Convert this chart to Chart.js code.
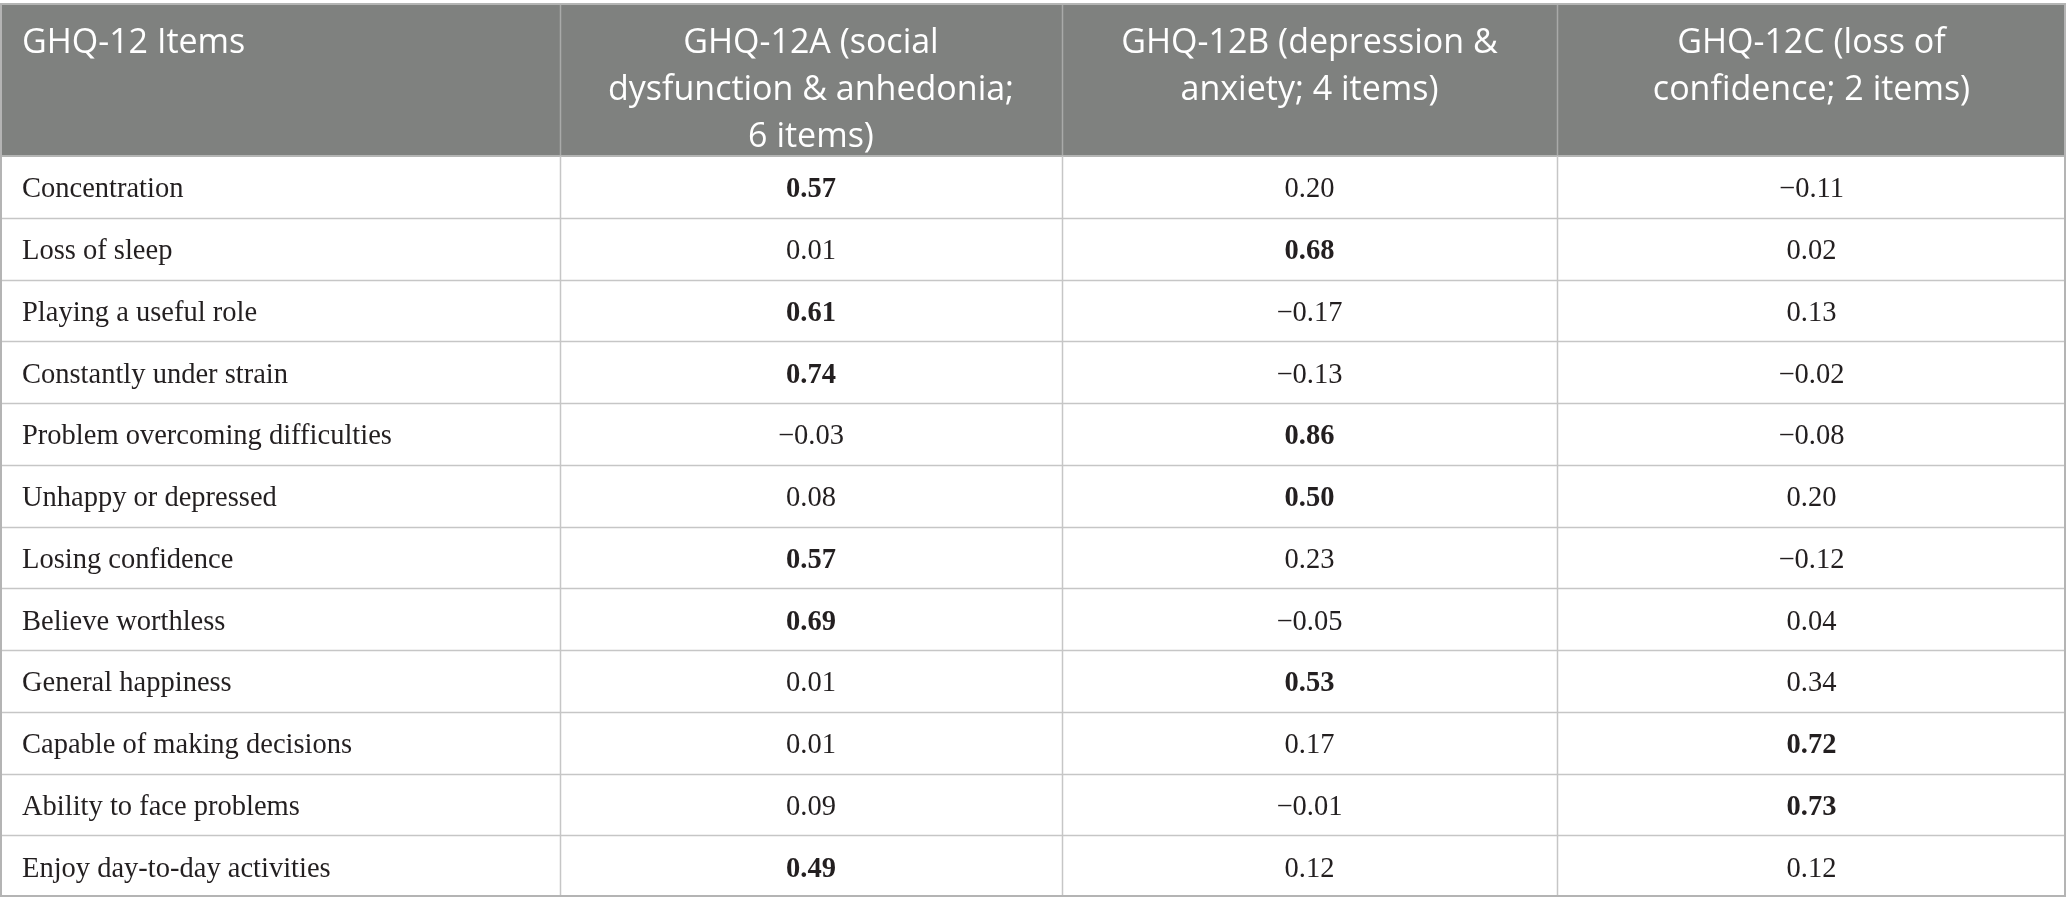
<!DOCTYPE html>
<html>
<head>
<meta charset="utf-8">
<title>GHQ-12 factor loadings</title>
<script src="https://cdn.jsdelivr.net/npm/chart.js@4.4.1/dist/chart.umd.min.js"></script>
<style>
  html, body { margin: 0; padding: 0; background: #fff; }
  canvas { display: block; }
</style>
</head>
<body>
<canvas id="table" width="2067" height="916"></canvas>
<script>
// table content
const items = [
    'Concentration',
    'Loss of sleep',
    'Playing a useful role',
    'Constantly under strain',
    'Problem overcoming difficulties',
    'Unhappy or depressed',
    'Losing confidence',
    'Believe worthless',
    'General happiness',
    'Capable of making decisions',
    'Ability to face problems',
    'Enjoy day-to-day activities'
];
const headerItems = ['GHQ-12 Items'];
const headerA = ['GHQ-12A (social', 'dysfunction & anhedonia;', '6 items)'];
const headerB = ['GHQ-12B (depression &', 'anxiety; 4 items)'];
const headerC = ['GHQ-12C (loss of', 'confidence; 2 items)'];

const factorA = [0.57, 0.01, 0.61, 0.74, -0.03, 0.08, 0.57, 0.69, 0.01, 0.01, 0.09, 0.49];
const factorB = [0.20, 0.68, -0.17, -0.13, 0.86, 0.50, 0.23, -0.05, 0.53, 0.17, -0.01, 0.12];
const factorC = [-0.11, 0.02, 0.13, -0.02, -0.08, 0.20, -0.12, 0.04, 0.34, 0.72, 0.73, 0.12];

// layout (x-scale units)
const colEdges = [0, 560, 1062, 1557, 2066];
const headerTop = 4;

const factors = [factorA, factorB, factorC];
const headers = [headerItems, headerA, headerB, headerC];
const colCenter = k => (colEdges[k] + colEdges[k + 1]) / 2;

// primary loading of each row is shown in bold
const rowMax = items.map((_, i) => Math.max(...factors.map(f => f[i])));

function fmt(v) {
    return v.toFixed(2).replace('-', '\u2212');
}

const tablePlugin = {
    id: 'tableCells',
    beforeDatasetsDraw(chart) {
        const { ctx, chartArea, scales: { x, y } } = chart;
        const left = x.getPixelForValue(colEdges[0]);
        const right = x.getPixelForValue(colEdges[colEdges.length - 1]);
        ctx.save();

        // header band
        ctx.fillStyle = '#7f817f';
        ctx.fillRect(left, headerTop, right - left, chartArea.top - headerTop);

        // header separators
        ctx.strokeStyle = '#a9aaa9';
        ctx.lineWidth = 1.5;
        colEdges.slice(1, -1).forEach(e => {
            const px = Math.round(x.getPixelForValue(e)) + 0.5;
            ctx.beginPath();
            ctx.moveTo(px, headerTop);
            ctx.lineTo(px, chartArea.top);
            ctx.stroke();
        });
        ctx.strokeStyle = '#b4b5b4';
        ctx.lineWidth = 2;
        ctx.beginPath();
        ctx.moveTo(left, headerTop);
        ctx.lineTo(right, headerTop);
        ctx.moveTo(left, chartArea.top);
        ctx.lineTo(right, chartArea.top);
        ctx.stroke();

        // body row lines
        ctx.strokeStyle = '#c6c6c6';
        ctx.lineWidth = 1.5;
        for (let i = 1; i < items.length; i++) {
            const py = Math.round(y.getPixelForValue(i - 0.5)) + 0.5;
            ctx.beginPath();
            ctx.moveTo(left, py);
            ctx.lineTo(right, py);
            ctx.stroke();
        }
        // body column lines
        colEdges.slice(1, -1).forEach(e => {
            const px = Math.round(x.getPixelForValue(e)) + 0.5;
            ctx.beginPath();
            ctx.moveTo(px, chartArea.top);
            ctx.lineTo(px, chartArea.bottom);
            ctx.stroke();
        });

        // outer border
        ctx.strokeStyle = '#b4b4b4';
        ctx.lineWidth = 2;
        const bottom = y.getPixelForValue(items.length - 0.5);
        ctx.beginPath();
        ctx.moveTo(left + 1, headerTop);
        ctx.lineTo(left + 1, bottom);
        ctx.moveTo(right - 1, headerTop);
        ctx.lineTo(right - 1, bottom);
        ctx.moveTo(left, bottom - 1);
        ctx.lineTo(right, bottom - 1);
        ctx.stroke();
        ctx.restore();
    },
    afterDatasetsDraw(chart) {
        const { ctx, scales: { x, y } } = chart;
        ctx.save();

        // header text
        ctx.fillStyle = '#ffffff';
        ctx.font = '34px "Open Sans"';
        ctx.textBaseline = 'alphabetic';
        headers.forEach((lines, k) => {
            lines.forEach((line, j) => {
                const py = headerTop + 49 + j * 47;
                if (k === 0) {
                    ctx.textAlign = 'left';
                    ctx.fillText(line, x.getPixelForValue(colEdges[0]) + 22, py);
                } else {
                    ctx.textAlign = 'center';
                    ctx.fillText(line, x.getPixelForValue(colCenter(k)), py);
                }
            });
        });

        // item names
        ctx.fillStyle = '#231f20';
        ctx.textAlign = 'left';
        ctx.font = '28.5px "Liberation Serif"';
        items.forEach((name, i) => {
            ctx.fillText(name, x.getPixelForValue(colEdges[0]) + 22, y.getPixelForValue(i) + 10.5);
        });

        // loadings, placed at the dataset points
        ctx.textAlign = 'center';
        chart.data.datasets.forEach((ds, d) => {
            const meta = chart.getDatasetMeta(d);
            meta.data.forEach((pt, i) => {
                const v = ds.data[i].v;
                ctx.font = (v === rowMax[i] ? 'bold ' : '') + '28.5px "Liberation Serif"';
                ctx.fillText(fmt(v), pt.x, pt.y + 10.5);
            });
        });
        ctx.restore();
    }
};

const ctx = document.getElementById('table').getContext('2d');
new Chart(ctx, {
    type: 'scatter',
    data: {
        datasets: factors.map((f, k) => ({
            label: headers[k + 1].join(' '),
            data: f.map((v, i) => ({ x: colCenter(k + 1), y: i, v: v })),
            pointRadius: 0,
            pointHoverRadius: 0
        }))
    },
    options: {
        responsive: false,
        devicePixelRatio: 1,
        animation: false,
        layout: { padding: { top: 156, bottom: 19, left: 0, right: 1 } },
        plugins: {
            legend: { display: false },
            tooltip: { enabled: false }
        },
        scales: {
            x: {
                type: 'linear',
                display: false,
                min: colEdges[0],
                max: colEdges[colEdges.length - 1]
            },
            y: {
                type: 'category',
                labels: items,
                offset: true,
                display: false
            }
        }
    },
    plugins: [tablePlugin]
});
</script>
</body>
</html>
